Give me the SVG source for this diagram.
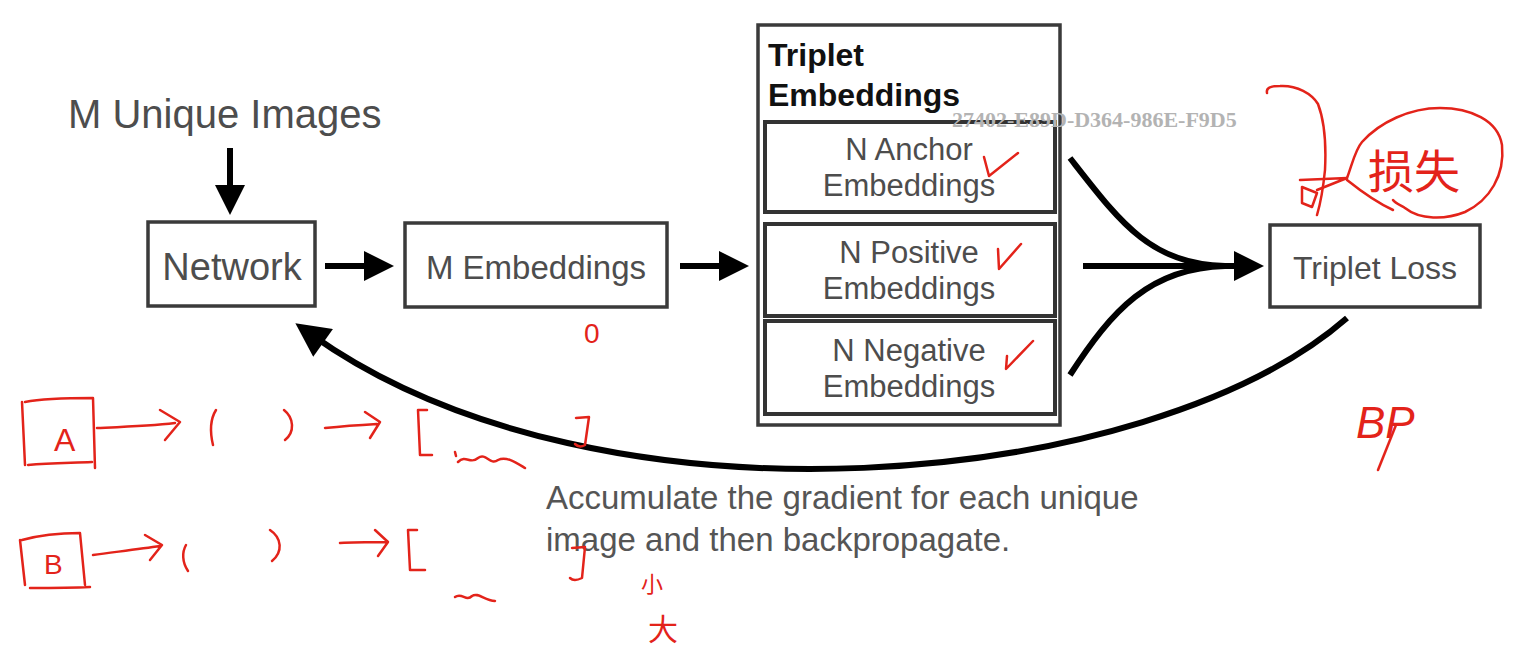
<svg xmlns="http://www.w3.org/2000/svg" width="1517" height="662" viewBox="0 0 1517 662">
<defs>
<style>
.box{fill:#fff;stroke:#3a3a3a;stroke-width:3.5}
.inner{fill:#fff;stroke:#333;stroke-width:4}
.lbl{font-family:"Liberation Sans",Arial,sans-serif;fill:#4d4d4d;text-anchor:middle}
.title{font-family:"Liberation Sans",Arial,sans-serif;font-weight:bold;fill:#111}
.cap{font-family:"Liberation Sans",Arial,sans-serif;fill:#555;font-size:33px}
.arr{fill:none;stroke:#000;stroke-width:6}
.red{fill:none;stroke:#e3231a;stroke-width:2.5;stroke-linecap:round;stroke-linejoin:round}
.rtxt{font-family:"Liberation Sans","Noto Sans CJK SC",sans-serif;fill:#e3231a}
.wm{font-family:"Liberation Serif",serif;font-weight:bold;font-size:22px;fill:#b3b3b3}
</style>
<marker id="ah" viewBox="0 0 10 10" refX="4" refY="5" markerWidth="32" markerHeight="30" orient="auto" markerUnits="userSpaceOnUse">
<path d="M0,0 L10,5 L0,10 Z" fill="#000"/>
</marker>
<marker id="ahb" viewBox="0 0 10 10" refX="4" refY="5" markerWidth="38" markerHeight="34" orient="auto" markerUnits="userSpaceOnUse">
<path d="M0,0 L10,5 L0,10 Z" fill="#000"/>
</marker>
</defs>
<rect width="1517" height="662" fill="#fff"/>

<g id="input-label">
<text x="68" y="128" font-family="Liberation Sans, Arial, sans-serif" font-size="40" fill="#4d4d4d">M Unique Images</text>
</g>

<g id="network">
<rect class="box" x="148" y="222" width="167" height="84"/>
<text class="lbl" x="232" y="280" font-size="38">Network</text>
</g>

<g id="m-embeddings">
<rect class="box" x="405" y="223" width="262" height="84"/>
<text class="lbl" x="536" y="279" font-size="33">M Embeddings</text>
</g>

<g id="triplet-embeddings">
<rect class="box" x="758" y="25" width="302" height="400"/>
<text class="title" x="768" y="66" font-size="32">Triplet</text>
<text class="title" x="768" y="106" font-size="32">Embeddings</text>
</g>

<g id="anchor">
<rect class="inner" x="765" y="122" width="290" height="90"/>
<text class="lbl" x="909" y="160" font-size="31">N Anchor</text>
<text class="lbl" x="909" y="196" font-size="31">Embeddings</text>
</g>

<g id="positive">
<rect class="inner" x="765" y="224" width="290" height="92"/>
<text class="lbl" x="909" y="263" font-size="31">N Positive</text>
<text class="lbl" x="909" y="299" font-size="31">Embeddings</text>
</g>

<g id="negative">
<rect class="inner" x="765" y="321" width="290" height="93"/>
<text class="lbl" x="909" y="361" font-size="31">N Negative</text>
<text class="lbl" x="909" y="397" font-size="31">Embeddings</text>
</g>

<g id="triplet-loss">
<rect class="box" x="1270" y="225" width="210" height="82"/>
<text class="lbl" x="1375" y="279" font-size="32">Triplet Loss</text>
</g>

<g id="caption">
<text class="cap" x="546" y="509">Accumulate the gradient for each unique</text>
<text class="cap" x="546" y="551">image and then backpropagate.</text>
</g>

<g id="connectors">
<path class="arr" d="M230,148 L230,197" marker-end="url(#ah)"/>
<path class="arr" d="M325,266 L376,266" marker-end="url(#ah)"/>
<path class="arr" d="M680,266 L731,266" marker-end="url(#ah)"/>
<path class="arr" d="M1070,158 C1120,222 1150,264 1225,266" stroke-width="5"/>
<path class="arr" d="M1070,375 C1112,310 1150,268 1225,266" stroke-width="5"/>
<path class="arr" d="M1083,266 L1246,266" marker-end="url(#ah)"/>
<path class="arr" d="M1347,318 C1150,490 600,540 312,335" marker-end="url(#ahb)"/>
</g>

<g id="watermark">
<text class="wm" x="952" y="127">27402-E89D-D364-986E-F9D5</text>
</g>

<g id="annotations">
<path class="red" d="M984,157 L989,176 L1018,153"/>
<path class="red" d="M998,249 L999,269 L1021,244"/>
<path class="red" d="M1007,356 L1006,369 L1033,341"/>
<text class="rtxt" x="584" y="343" font-size="28">0</text>
<path class="red" d="M1267,93 C1266,88 1270,86 1280,86 C1297,85 1312,94 1318,104 C1326,125 1326,150 1325,170 C1323,190 1320,205 1317,215"/>
<path class="red" d="M1302,187 L1302,203 L1312,207 L1317,193 Z"/>
<path class="red" d="M1300,180 L1347,178 L1317,190"/>
<path class="red" d="M1347,178 C1352,165 1355,150 1362,142 C1380,122 1410,108 1440,108 C1470,108 1498,120 1502,145 C1505,175 1490,200 1465,212 C1445,220 1420,220 1405,208 C1400,205 1395,203 1393,200"/>
<path class="red" d="M1347,180 C1362,192 1380,204 1393,210"/>
<text class="rtxt" x="1368" y="188" font-size="46">损失</text>
<text class="rtxt" x="1356" y="438" font-size="44" font-style="italic">BP</text>
<path class="red" d="M1396,425 L1378,470"/>
<path class="red" d="M22,402 L25,465 M25,402 C45,398 70,398 93,398 L95,468 M28,465 C50,463 70,463 92,462"/>
<text class="rtxt" x="54" y="451" font-size="32">A</text>
<path class="red" d="M97,428 C120,427 150,426 175,423 M160,410 L180,422 L165,440"/>
<path class="red" d="M216,410 C211,418 209,428 213,445"/>
<path class="red" d="M284,410 C294,418 295,432 285,440"/>
<path class="red" d="M325,428 C345,426 360,425 377,424 M365,412 L380,422 L370,438"/>
<path class="red" d="M427,410 L418,410 L420,455 L432,455"/>
<path class="red" d="M455,452 L456,456"/>
<path class="red" d="M458,462 C466,454 470,465 478,458 C486,452 490,466 498,460 C506,456 515,462 525,468"/>
<path class="red" d="M576,418 L589,417 L585,445 C580,448 577,446 575,444"/>
<path class="red" d="M20,540 L25,585 M22,540 C40,535 60,533 80,533 L85,585 M30,588 C50,588 70,588 90,587"/>
<text class="rtxt" x="44" y="574" font-size="28">B</text>
<path class="red" d="M93,555 C115,552 140,549 160,546 M145,535 L162,545 L150,560"/>
<path class="red" d="M186,545 C182,552 182,562 188,571"/>
<path class="red" d="M270,530 C282,538 283,552 272,561"/>
<path class="red" d="M340,543 C355,542 370,542 386,542 M375,530 L388,542 L378,556"/>
<path class="red" d="M417,530 L408,530 L410,570 L425,570"/>
<path class="red" d="M455,597 C462,592 466,602 472,596 C478,592 484,600 495,601"/>
<path class="red" d="M572,548 L585,547 L582,578 C576,581 572,580 570,578"/>
<text class="rtxt" x="641" y="592" font-size="22">小</text>
<text class="rtxt" x="648" y="640" font-size="30">大</text>
</g>
</svg>
